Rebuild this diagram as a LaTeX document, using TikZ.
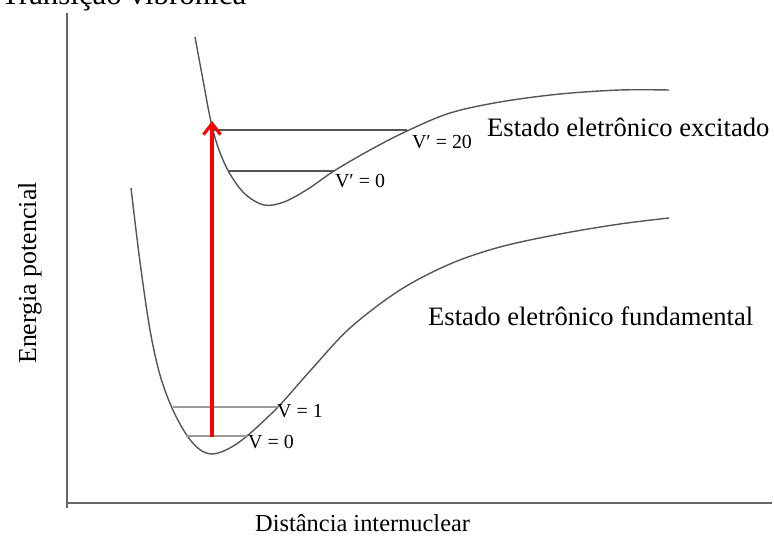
\documentclass[tikz,border=0pt]{standalone}
\usepackage{fontspec}
\setmainfont{Liberation Serif}
\usetikzlibrary{arrows.meta}
\definecolor{curvegray}{HTML}{555555}
\definecolor{levelgray}{HTML}{9A9A9A}
\begin{document}
\begin{tikzpicture}[x=1bp,y=-1bp,
  axisline/.style={draw=gray!80!black,line width=1.6bp},
  curveline/.style={draw=curvegray,line width=1.4bp,smooth,tension=0.55},
  hilevel/.style={draw=curvegray,line width=1.6bp},
  lolevel/.style={draw=levelgray,line width=1.1bp},
  vlabel/.style={font=\fontsize{20}{22}\selectfont,inner sep=0pt},
  statelabel/.style={font=\fontsize{26.7}{30}\selectfont,inner sep=0pt,anchor=base west},
  axislabel/.style={font=\fontsize{24.5}{28}\selectfont,inner sep=0pt,anchor=base west},
  transition/.style={draw=red,line width=3.6bp,-{Straight Barb[length=11bp,width=17bp,line width=3.2bp]}}]
\useasboundingbox (0,0) rectangle (774,536);
\begin{scope}
\clip (0,0) rectangle (774,536);
\node[font=\fontsize{31}{33}\selectfont,inner sep=0pt,anchor=base west] (title) at (1,5) {Transição vibrônica};
\end{scope}
% axes
\coordinate (ytop) at (67,13);
\coordinate (origin) at (67,503);
\coordinate (ybot) at (67,508);
\coordinate (xend) at (772,503);
\draw[axisline] (ytop) -- (ybot);
\draw[axisline] (origin) -- (xend);
% excited state curve
\draw[curveline] plot coordinates {(195,37) (203,80) (211,122) (219,150) (230,174) (245,194) (264,205) (284,202) (308,189) (334,171) (370,150) (407,131) (450,113) (500,102) (560,94) (620,90) (669,90)};
% ground state curve
\draw[curveline] plot coordinates {(131,188) (140,262) (150,330) (160,375) (172,408) (186,434) (199,449) (212,454) (228,449) (247,436) (278,407) (310,371) (350,328) (400,290) (450,264) (500,247) (560,234) (620,224) (669,218)};
% vibrational levels
\coordinate (e20l) at (213,130);
\coordinate (e20r) at (407,130);
\coordinate (e0l) at (229,171);
\coordinate (e0r) at (334,171);
\coordinate (g1l) at (173,407);
\coordinate (g1r) at (278,407);
\coordinate (g0l) at (186,436);
\coordinate (g0r) at (247,436);
\draw[hilevel] (e20l) -- (e20r);
\draw[hilevel] (e0l) -- (e0r);
\draw[lolevel] (g1l) -- (g1r);
\draw[lolevel] (g0l) -- (g0r);
% level labels
\node[vlabel] (lv20) at (442,142) {V′ = 20};
\node[vlabel] (lv0p) at (360,181) {V′ = 0};
\node[vlabel] (lv1) at (300,411) {V = 1};
\node[vlabel] (lv0) at (271,442) {V = 0};
% transition arrow
\coordinate (arrfrom) at (212,437);
\coordinate (arrto) at (212,121);
\draw[transition] (arrfrom) -- (arrto);
% state labels
\node[statelabel] (exc) at (487,137) {Estado eletrônico excitado};
\node[statelabel] (fund) at (428,325) {Estado eletrônico fundamental};
% axis labels
\node[axislabel] (xlab) at (255,531) {Distância internuclear};
\node[axislabel,font=\fontsize{26}{28}\selectfont,rotate=90] (ylab) at (36,364) {Energia potencial};
\end{tikzpicture}
\end{document}
